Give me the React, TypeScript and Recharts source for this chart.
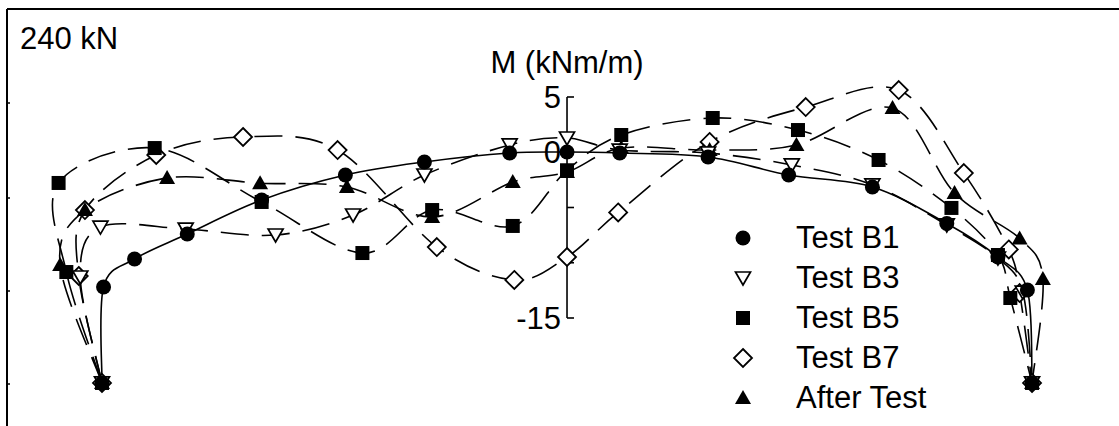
import React from "react"
import { LineChart, Line, XAxis, YAxis, ReferenceLine, Legend } from "recharts"

// positions along the slab (m) and moments (kNm/m)
const b1X = [-3.0, -2.99, -2.79, -2.45, -1.97, -1.43, -0.92, -0.37, 0, 0.34, 0.91, 1.43, 1.97, 2.45, 2.78, 2.97, 3.0]
const b1Y = [-20.88, -12.19, -9.66, -7.4, -4.32, -2.06, -0.88, -0.07, 0.02, -0.07, -0.43, -2.06, -3.14, -6.45, -9.48, -12.47, -20.88]

const b3X = [-3.0, -3.14, -3.01, -2.46, -1.88, -1.38, -0.92, -0.37, 0, 0.34, 0.91, 1.45, 1.97, 2.45, 2.78, 2.94, 3.0]
const b3Y = [-20.88, -11.29, -6.77, -6.95, -7.49, -5.68, -2.06, 0.66, 1.29, 0.2, -0.07, -1.15, -2.96, -6.58, -9.57, -12.65, -20.88]

const b5X = [-3.0, -3.23, -3.28, -2.66, -1.97, -1.32, -0.87, -0.35, 0, 0.35, 0.94, 1.49, 2.01, 2.48, 2.78, 2.86, 3.0]
const b5Y = [-20.88, -10.84, -2.78, 0.38, -4.5, -9.12, -5.23, -6.67, -1.63, 1.56, 3.1, 2.01, -0.7, -5.04, -9.3, -13.19, -20.88]

const b7X = [-3.0, -3.15, -3.11, -2.65, -2.09, -1.48, -0.84, -0.34, 0, 0.33, 0.92, 1.54, 2.14, 2.56, 2.85, 2.92, 3.0]
const b7Y = [-20.88, -11.2, -5.23, -0.25, 1.38, 0.2, -8.58, -11.56, -9.48, -5.45, 0.93, 4.09, 5.63, -1.88, -8.8, -12.74, -20.88]

const atX = [-3.0, -3.27, -3.11, -2.58, -1.98, -1.42, -0.87, -0.35, 0, 0.35, 0.92, 1.48, 2.1, 2.5, 2.92, 3.07, 3.0]
const atY = [-20.88, -10.2, -5.23, -2.33, -2.8, -3.14, -5.86, -2.7, -1.79, 0.38, 0.2, 0.66, 4.0, -3.69, -7.8, -11.47, -20.88]

const yTicks = [5, 0, -5, -10, -15]
const yTickLabels = ["5", "0", "", "", "-15"]

const FONT = "'Liberation Sans', Arial, sans-serif"
const FS = 31
const toRows = (xs: number[], ys: number[]) => xs.map((x, i) => ({ x, y: ys[i] }))

const series = [
  { name: "Test B7", shape: "diamond", dashed: true, data: toRows(b7X, b7Y) },
  { name: "After Test", shape: "triUp", dashed: true, data: toRows(atX, atY) },
  { name: "Test B5", shape: "square", dashed: true, data: toRows(b5X, b5Y) },
  { name: "Test B3", shape: "triDown", dashed: true, data: toRows(b3X, b3Y) },
  { name: "Test B1", shape: "circle", dashed: false, data: toRows(b1X, b1Y) },
]
const legendOrder = ["Test B1", "Test B3", "Test B5", "Test B7", "After Test"]

// smooth curve through every point (catmull-rom), like the original plot
const catmullRom = (context: any) => {
  let pts: number[][] = []
  return {
    areaStart() {},
    areaEnd() {},
    lineStart() {
      pts = []
    },
    point(x: number, y: number) {
      pts.push([+x, +y])
    },
    lineEnd() {
      if (!pts.length) return
      context.moveTo(pts[0][0], pts[0][1])
      for (let i = 0; i < pts.length - 1; i++) {
        const p0 = pts[i - 1] || pts[i]
        const p1 = pts[i]
        const p2 = pts[i + 1]
        const p3 = pts[i + 2] || p2
        context.bezierCurveTo(
          p1[0] + (p2[0] - p0[0]) / 6,
          p1[1] + (p2[1] - p0[1]) / 6,
          p2[0] - (p3[0] - p1[0]) / 6,
          p2[1] - (p3[1] - p1[1]) / 6,
          p2[0],
          p2[1]
        )
      }
    },
  }
}

const Marker = ({ shape, cx, cy }: { shape: string; cx: number; cy: number }) => {
  if (shape === "circle") return <circle cx={cx} cy={cy} r={7.5} fill="#000" />
  if (shape === "square") return <rect x={cx - 7} y={cy - 7} width={14} height={14} fill="#000" />
  if (shape === "triDown")
    return (
      <polygon
        points={`${cx - 7.5},${cy - 6} ${cx + 7.5},${cy - 6} ${cx},${cy + 7}`}
        fill="#fff"
        stroke="#000"
        strokeWidth={1.7}
      />
    )
  if (shape === "triUp")
    return <polygon points={`${cx - 8},${cy + 6} ${cx + 8},${cy + 6} ${cx},${cy - 8}`} fill="#000" />
  return (
    <polygon
      points={`${cx},${cy - 9} ${cx + 9},${cy} ${cx},${cy + 9} ${cx - 9},${cy}`}
      fill="#fff"
      stroke="#000"
      strokeWidth={1.8}
    />
  )
}

const LegendBox = () => (
  <div style={{ fontFamily: FONT, fontSize: FS, color: "#000" }}>
    {legendOrder.map((name) => {
      const s = series.find((d) => d.name === name)!
      return (
        <div key={name} style={{ display: "flex", alignItems: "center", height: 40, lineHeight: "40px" }}>
          <svg width={22} height={22} style={{ overflow: "visible" }}>
            <Marker shape={s.shape} cx={11} cy={11} />
          </svg>
          <span style={{ marginLeft: 42, whiteSpace: "nowrap" }}>{name}</span>
        </div>
      )
    })}
  </div>
)

const W = 1119
const H = 426
const tickLen = 0.045

export default function App() {
  return (
    <div style={{ position: "absolute", left: 0, top: 0, width: W, height: H, background: "#fff" }}>
      <LineChart width={W} height={H} margin={{ top: 0, right: 0, bottom: 0, left: 0 }}>
        <XAxis type="number" dataKey="x" domain={[-3.658, 3.561]} allowDataOverflow hide />
        <YAxis type="number" dataKey="y" domain={[-24.774, 13.778]} allowDataOverflow hide />
        <ReferenceLine
          segment={[
            { x: 0, y: -15 },
            { x: 0, y: 5 },
          ]}
          stroke="#000"
          strokeWidth={1.6}
          label={{ value: "M (kNm/m)", position: "top", offset: 24, fontSize: FS, fill: "#000", fontFamily: FONT }}
        />
        {yTicks.map((t, i) => (
          <ReferenceLine
            key={t}
            segment={[
              { x: 0, y: t },
              { x: tickLen, y: t },
            ]}
            stroke="#000"
            strokeWidth={1.6}
            label={
              yTickLabels[i]
                ? { value: yTickLabels[i], position: "left", offset: 6, fontSize: FS, fill: "#000", fontFamily: FONT }
                : undefined
            }
          />
        ))}
        {series.map((s) => (
          <Line
            key={s.name}
            name={s.name}
            data={s.data}
            dataKey="y"
            type={catmullRom as any}
            stroke="#000"
            strokeWidth={1.6}
            strokeDasharray={s.dashed ? "28 13" : undefined}
            isAnimationActive={false}
            dot={(p: any) => <Marker key={`${s.name}-${p.index}`} shape={s.shape} cx={p.cx} cy={p.cy} />}
            activeDot={false}
          />
        ))}
        <Legend
          layout="vertical"
          align="center"
          verticalAlign="middle"
          content={() => <LegendBox />}
          wrapperStyle={{ left: 732, top: 218, width: 320, height: 200 }}
        />
      </LineChart>
      <svg width={W} height={H} style={{ position: "absolute", left: 0, top: 0, pointerEvents: "none" }}>
        <line x1={7} y1={9} x2={W} y2={9} stroke="#000" strokeWidth={2} />
        <line x1={7} y1={9} x2={7} y2={H} stroke="#000" strokeWidth={2} />
        {[103, 198, 291, 384].map((y) => (
          <line key={y} x1={7} y1={y} x2={10} y2={y} stroke="#000" strokeWidth={1.5} />
        ))}
        <text x={20} y={49} fontSize={FS} fontFamily={FONT} fill="#000">
          240 kN
        </text>
      </svg>
    </div>
  )
}
